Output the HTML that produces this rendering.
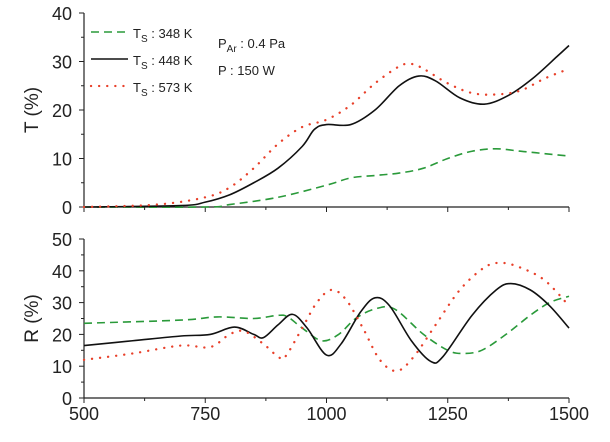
<!DOCTYPE html>
<html><head><meta charset="utf-8"><style>
body{margin:0;background:#fff;width:610px;height:437px;overflow:hidden}
text{font-family:"Liberation Sans",sans-serif;fill:#222}
</style></head><body>
<svg id="c" width="610" height="437"></svg>
<script>
const xTicks=[500,750,1000,1250,1500];
const tTicks=[0,10,20,30,40];
const rTicks=[0,10,20,30,40,50];
const tGreenX=[500,750,800,900,1000,1050,1100,1150,1200,1250,1300,1350,1400,1450,1500];
const tGreenY=[0,0,0.5,2,4.5,6,6.5,7,8,10,11.5,12,11.5,11,10.5];
const tBlackX=[500,700,750,800,850,900,950,975,1000,1050,1100,1150,1190,1225,1275,1325,1375,1425,1475,1500];
const tBlackY=[0,0.3,1,2.5,5,8,12.5,16,17,17,20,25,27,26,22.5,21.2,23,26.5,31,33.3];
const tRedX=[500,650,750,800,850,900,950,1000,1050,1100,1150,1175,1200,1250,1300,1350,1400,1450,1500];
const tRedY=[0,0.5,2,4,8,13,16.5,18,21,25.5,29,29.5,28.5,25.5,23.5,23.2,24,26.5,28.5];
const rGreenX=[500,700,775,850,900,920,950,990,1025,1060,1100,1140,1200,1250,1280,1320,1370,1420,1460,1500];
const rGreenY=[23.5,24.5,25.5,25,26,25.5,22,18,20,25,28,28,20,15,14,15,20,26,30,32];
const rBlackX=[500,600,700,760,810,850,870,900,930,960,1000,1030,1070,1100,1130,1175,1215,1240,1300,1350,1380,1420,1460,1500];
const rBlackY=[16.5,18,19.5,20,22.3,20,19,23,26.3,22,13.5,17,27,31.5,29,18,11.5,13,26,34,36,34,29,22];
const rRedX=[500,600,700,760,800,830,870,900,915,950,980,1010,1040,1075,1110,1145,1180,1225,1275,1325,1360,1400,1450,1500];
const rRedY=[12,14,16.5,16,20,21,17,13,13,22,30,34,31,22,12,8.5,13,23,34,41,42.5,41,37,29];

const svg=document.getElementById('c');const NS='http://www.w3.org/2000/svg';
function mk(t,a,p){const e=document.createElementNS(NS,t);for(const k in a)e.setAttribute(k,a[k]);(p||svg).appendChild(e);return e;}
const X=v=>84+(v-500)/1000*485;
const TY=v=>207-v*194/40;
const RY=v=>398-v*159/50;
function path(xs,ys,Y){const p=xs.map((x,i)=>[X(x),Y(ys[i])]);let d='M'+p[0];
for(let i=0;i<p.length-1;i++){const p0=p[i-1]||p[i],p1=p[i],p2=p[i+1],p3=p[i+2]||p2;
d+=' C'+(p1[0]+(p2[0]-p0[0])/6)+','+(p1[1]+(p2[1]-p0[1])/6)+' '+(p2[0]-(p3[0]-p1[0])/6)+','+(p2[1]-(p3[1]-p1[1])/6)+' '+p2;}return d;}
const styles={g:{stroke:'#2a9a3a','stroke-dasharray':'8,5','stroke-width':1.6},k:{stroke:'#111','stroke-width':1.6},r:{stroke:'#e8402a','stroke-dasharray':'0.1,8','stroke-linecap':'round','stroke-width':2.3}};
function series(xs,ys,Y,s,name){const e=mk('path',Object.assign({d:path(xs,ys,Y),fill:'none'},styles[s]));

}
function axes(Y,ticks,top,bottom,label,lx,pre,showX){
 const g=mk('g',{});
 
 
 mk('line',{x1:84,x2:84,y1:top,y2:bottom,stroke:'#222','stroke-width':1.2},g);
 mk('line',{x1:84,x2:569,y1:bottom,y2:bottom,stroke:'#222','stroke-width':1.2},g);
 ticks.forEach(t=>{mk('line',{x1:84,x2:79,y1:Y(t),y2:Y(t),stroke:'#222'},g);
  const tx=mk('text',{x:72,y:Y(t)+7,'text-anchor':'end','font-size':18},g);tx.textContent=t;});
 for(let i=0;i<ticks.length-1;i++){const m=(ticks[i]+ticks[i+1])/2;mk('line',{x1:84,x2:81,y1:Y(m),y2:Y(m),stroke:'#222'},g);}
 xTicks.forEach((t,i)=>{mk('line',{x1:X(t),x2:X(t),y1:bottom,y2:bottom+5,stroke:'#222'},g);
  if(i<4)mk('line',{x1:X(t+125),x2:X(t+125),y1:bottom,y2:bottom+3,stroke:'#222'},g);
  if(showX){const tx=mk('text',{x:X(t),y:bottom+22,'text-anchor':'middle','font-size':18},g);tx.textContent=t;}});
 const yl=mk('text',{x:0,y:0,'text-anchor':'middle','font-size':19,transform:`translate(${lx},${(top+bottom)/2}) rotate(-90)`},g);yl.textContent=label;
}
axes(TY,tTicks,13,207,'T (%)',38,'top',false);
axes(RY,rTicks,239,398,'R (%)',38,'bottom',true);
series(tGreenX,tGreenY,TY,'g','t-348k-line');
series(tBlackX,tBlackY,TY,'k','t-448k-line');
series(tRedX,tRedY,TY,'r','t-573k-line');
series(rGreenX,rGreenY,RY,'g','r-348k-line');
series(rBlackX,rBlackY,RY,'k','r-448k-line');
series(rRedX,rRedY,RY,'r','r-573k-line');
const leg=[['g','348'],['k','448'],['r','573']];
leg.forEach((l,i)=>{const y=32+i*27;const g=mk('g',{});
 
 
 mk('line',Object.assign({x1:91,x2:128,y1:y,y2:y},styles[l[0]]),g);
 const t=mk('text',{x:133,y:y+6,'font-size':13},g);
 t.innerHTML='T<tspan font-size="10" dy="4">S</tspan><tspan dy="-4"> : '+l[1]+' K</tspan>';});
const a=mk('text',{x:218,y:48,'font-size':13});a.innerHTML='P<tspan font-size="10" dy="4">Ar</tspan><tspan dy="-4"> : 0.4 Pa</tspan>';


const b=mk('text',{x:218,y:75,'font-size':13});b.textContent='P : 150 W';


</script>
</body></html>
